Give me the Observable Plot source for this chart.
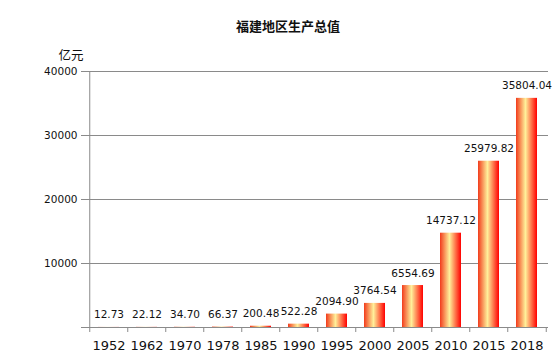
<!DOCTYPE html>
<html>
<head>
<meta charset="utf-8">
<script src="https://cdn.jsdelivr.net/npm/d3@7"></script>
<script src="https://cdn.jsdelivr.net/npm/@observablehq/plot@0.6"></script>
<style>
  html, body { margin: 0; padding: 0; background: #fff; }
  #chart svg { display: block; }
</style>
</head>
<body>
<div id="chart"></div>
<script>
const years = ["1952","1962","1970","1978","1985","1990","1995","2000","2005","2010","2015","2018"];
const values = [12.73, 22.12, 34.70, 66.37, 200.48, 522.28, 2094.90, 3764.54, 6554.69, 14737.12, 25979.82, 35804.04];
const yTicks = [0, 10000, 20000, 30000, 40000];
const title = "福建地区生产总值";
const unit = "亿元";

const data = years.map((y, i) => ({year: y, value: values[i]}));

const W = 559, H = 363;
const mL = 86, mR = 11, mT = 71, mB = 36;
const step = (W - mL - mR) / years.length;
const numFont = "'DejaVu Sans', Verdana, sans-serif";
const cjkFont = "'Noto Sans CJK SC', sans-serif";

const gradient = () => {
  const defs = d3.create("svg:defs");
  const g = defs.append("linearGradient").attr("id", "barGrad")
    .attr("x1", "0%").attr("x2", "100%").attr("y1", "0%").attr("y2", "0%");
  g.append("stop").attr("offset", "0%").attr("stop-color", "#f23b1c");
  g.append("stop").attr("offset", "45%").attr("stop-color", "#fff09a");
  g.append("stop").attr("offset", "100%").attr("stop-color", "#ff0000");
  return defs.node();
};

const chart = Plot.plot({
  width: W,
  height: H,
  marginLeft: mL,
  marginRight: mR,
  marginTop: mT,
  marginBottom: mB,
  style: {fontFamily: numFont, background: "#fff", color: "#111"},
  x: {domain: years, paddingInner: 0.45, paddingOuter: 0.225, label: null},
  y: {domain: [0, 40000], label: null},
  marks: [
    gradient,
    Plot.gridY(yTicks, {stroke: "#8a8a8a", strokeOpacity: 1, strokeWidth: 1}),
    Plot.axisY(yTicks, {tickSize: 5, tickPadding: 4, stroke: "#8a8a8a", fontSize: 10.5, fill: "#111", label: null, tickFormat: d => d === 0 ? "" : String(d)}),
    Plot.axisX({tickSize: 0, tickPadding: 13, fontSize: 13, fill: "#111", label: null}),
    Plot.barY(data, {x: "year", y: "value", fill: "url(#barGrad)"}),
    // left axis line
    Plot.ruleX([years[0]], {x: d => d, y1: 0, y2: 40000, dx: -step / 2, stroke: "#8a8a8a"}),
    // baseline
    Plot.ruleY([0], {stroke: "#8a8a8a"}),
    // category boundary ticks
    Plot.ruleX(years, {x: d => d, y1: 0, y2: 0, insetBottom: -5, dx: -step / 2, stroke: "#8a8a8a"}),
    Plot.ruleX([years[years.length - 1]], {x: d => d, y1: 0, y2: 0, insetBottom: -5, dx: step / 2, stroke: "#8a8a8a"}),
    Plot.text(data, {x: "year", y: "value", text: d => d.value.toFixed(2), lineAnchor: "bottom", dy: -9, fontSize: 10.5, fill: "#111"})
  ]
});

const svg = d3.select(chart);
svg.append("text").text(title)
  .attr("x", 288).attr("y", 27)
  .attr("text-anchor", "middle").attr("dominant-baseline", "middle")
  .attr("font-family", cjkFont).attr("font-weight", "bold").attr("font-size", 13).attr("fill", "#111");
svg.append("text").text(unit)
  .attr("x", 71).attr("y", 57)
  .attr("dominant-baseline", "middle")
  .attr("font-family", cjkFont).attr("font-size", 12.5).attr("fill", "#111");

document.getElementById("chart").appendChild(chart);
</script>
</body>
</html>
